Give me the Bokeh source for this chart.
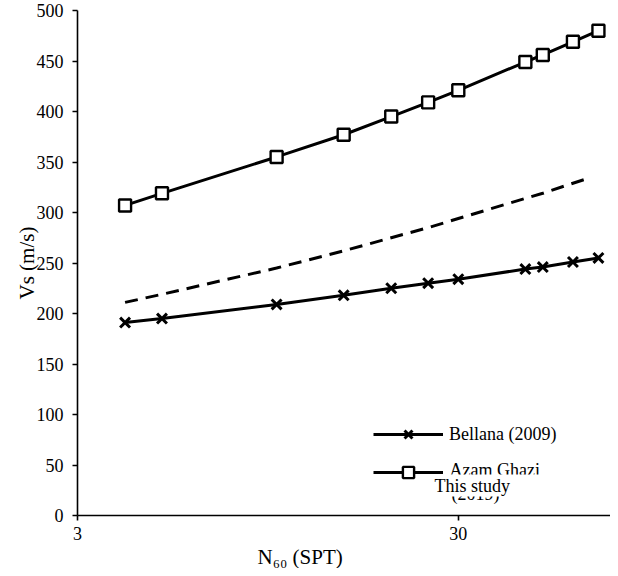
import math
from bokeh.plotting import figure
from bokeh.models import Range1d, FixedTicker, Legend, LegendItem, Label, Title
from bokeh.embed import file_html
from bokeh.resources import INLINE

# ---- data ----
n60 = [4, 5, 10, 15, 20, 25, 30, 45, 50, 60, 70]
vs_bellana = [191, 195, 209, 218, 225, 230, 234, 244, 246, 251, 255]
vs_azam = [307, 319, 355, 377, 395, 409, 421, 449, 456, 469, 480]
n60_study = [4, 5, 10, 15, 20, 25, 30, 45, 50, 60, 66]
vs_study = [211, 219, 245, 262, 275, 285, 294, 314, 319, 329, 334]
x_ticks = [3, 30]
y_ticks = [0, 50, 100, 150, 200, 250, 300, 350, 400, 450, 500]
x_start, x_end = 3, 75.3
y_start, y_end = 0, 500

FONT = "Liberation Serif"

p = figure(width=610, height=568, x_axis_type="log",
           x_range=Range1d(x_start, x_end), y_range=Range1d(y_start, y_end),
           output_backend="svg", toolbar_location=None,
           min_border_left=77, min_border_right=0, min_border_top=10, min_border_bottom=52)
p.outline_line_color = None
p.xgrid.visible = False
p.ygrid.visible = False
p.background_fill_color = "white"

for ax in (p.xaxis[0], p.yaxis[0]):
    ax.axis_line_color = "black"
    ax.axis_line_width = 1.6
    ax.major_tick_line_color = "black"
    ax.major_tick_line_width = 1.6
    ax.major_tick_out = 5
    ax.major_tick_in = 0
    ax.minor_tick_line_color = None
    ax.major_label_text_font = FONT
    ax.major_label_text_font_size = "18px"
    ax.major_label_text_color = "black"

p.xaxis[0].ticker = FixedTicker(ticks=x_ticks, minor_ticks=[])
p.xaxis[0].major_label_overrides = {t: str(t) for t in x_ticks}
p.xaxis[0].major_label_standoff = 6
p.yaxis[0].ticker = FixedTicker(ticks=y_ticks, minor_ticks=[])
p.yaxis[0].major_label_standoff = 9

p.yaxis[0].axis_label = "Vs (m/s)"
p.yaxis[0].axis_label_text_font = FONT
p.yaxis[0].axis_label_text_font_size = "21px"
p.yaxis[0].axis_label_text_font_style = "normal"
p.yaxis[0].axis_label_text_color = "black"
p.yaxis[0].axis_label_standoff = -5

xt = Title(text="N\u2086\u2080 (SPT)", align="left", offset=180, standoff=0,
           text_font=FONT, text_font_size="21px", text_font_style="normal",
           text_color="black")
p.add_layout(xt, "below")

# ---- series ----
l_bel = p.line(n60, vs_bellana, line_color="black", line_width=3)
m_bel = p.scatter(n60, vs_bellana, marker="x", size=14, line_color="black", line_width=3)
l_az = p.line(n60, vs_azam, line_color="black", line_width=3)
m_az = p.scatter(n60, vs_azam, marker="square", size=12, line_color="black",
                 fill_color="white", line_width=2.4)
p.line(n60_study, vs_study, line_color="black", line_width=3, line_dash="13 8")

# ---- legend ----
legend = Legend(items=[LegendItem(label="Bellana (2009)", renderers=[l_bel, m_bel]),
                       LegendItem(label=" ", renderers=[l_az, m_az])],
                location=(296, 29), orientation="vertical",
                glyph_width=70, glyph_height=28, label_height=28, spacing=10,
                label_standoff=6, padding=0, margin=0,
                border_line_color=None, background_fill_alpha=0,
                label_text_font=FONT, label_text_font_size="18px", label_text_color="black")
p.add_layout(legend, "center")

def lab(text, x, y, **kw):
    return Label(x=x, y=y, x_units="screen", y_units="screen", text=text,
                 text_font=FONT, text_font_size="18px", text_color="black",
                 text_baseline="middle", **kw)

p.add_layout(lab("Azam Ghazi", 372, 46), "center")
p.add_layout(lab("(2019)", 374, 22), "center")
p.add_layout(lab("This study", 353, 30, level="overlay",
                 background_fill_color="white", background_fill_alpha=1,
                 padding=dict(left=4, right=40, top=1, bottom=1)), "center")

open("out.html", "w").write(file_html(p, INLINE))
